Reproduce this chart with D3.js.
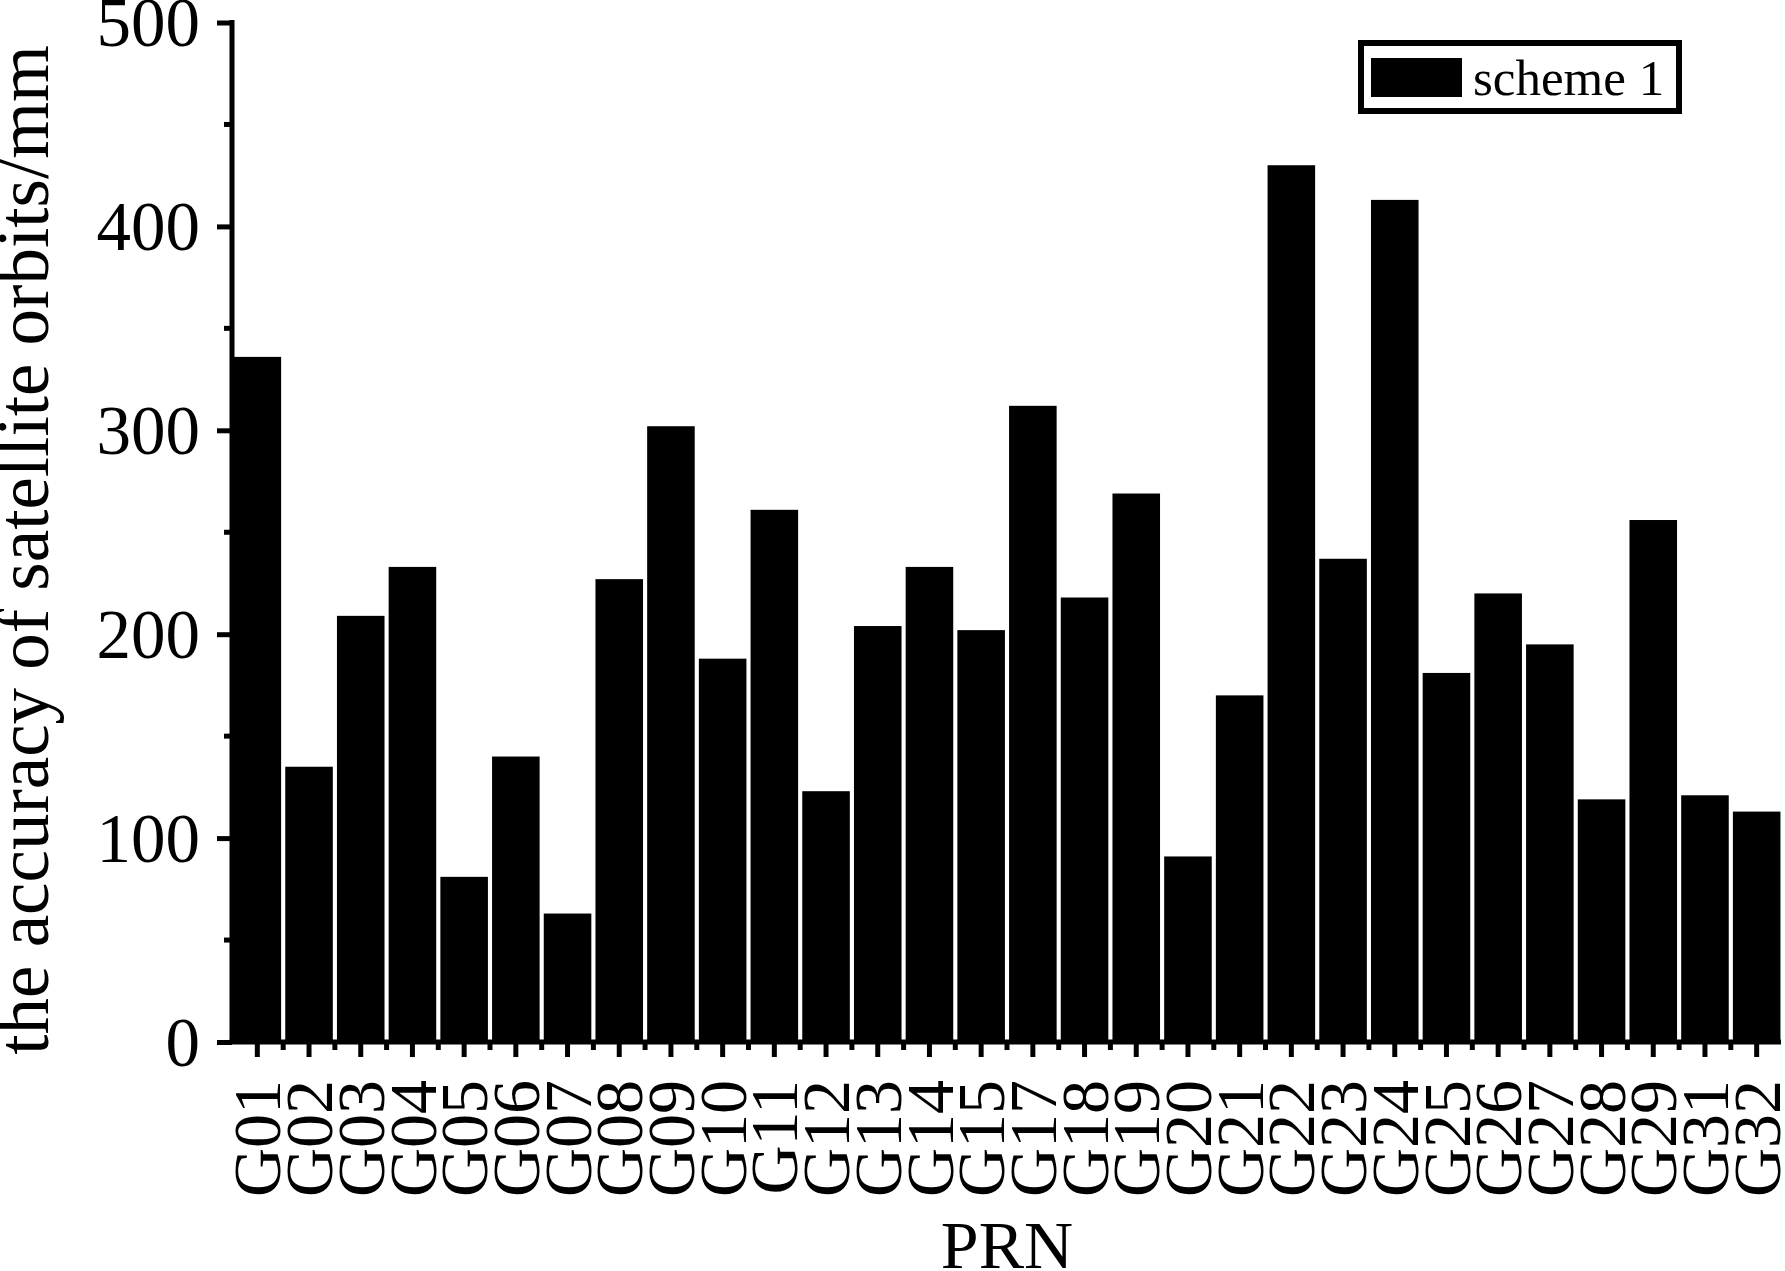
<!DOCTYPE html>
<html lang="en">
<head>
	<meta charset="utf-8">
	<title>Satellite orbit accuracy by PRN</title>
	<script type="text/javascript" src="https://d3js.org/d3.v7.min.js"></script>
	<style type="text/css">
		body { margin: 0; background: #fff; }
		text { font-family: "Liberation Serif", "DejaVu Serif", serif; fill: #000; }
	</style>
</head>
<body>
	<script type="text/javascript">

        var prn = ["G01","G02","G03","G04","G05","G06","G07","G08","G09","G10",
                   "G11","G12","G13","G14","G15","G17","G18","G19","G20","G21",
                   "G22","G23","G24","G25","G26","G27","G28","G29","G31","G32"];
        var scheme1 = [336, 135, 209, 233, 81, 140, 63, 227, 302, 188,
                       261, 123, 204, 233, 202, 312, 218, 269, 91, 170,
                       430, 237, 413, 181, 220, 195, 119, 256, 121, 113];
        var yTicks = [0, 100, 200, 300, 400, 500];
        var yMinor = [50, 150, 250, 350, 450];
        var seriesName = "scheme 1";

        var width = 1785, height = 1271;
        // note: "top" is reserved on window, so plot edges get their own names
        var plotLeft = 232, plotRight = 1782, plotTop = 22.5, plotBottom = 1042;

        var svg = d3.select("body")
            .append("svg")
            .attr("width", width)
            .attr("height", height);

        var x = d3.scaleBand()
            .domain(prn)
            .range([plotLeft, plotRight])
            .paddingInner(0.08)
            .paddingOuter(0.03);

        var y = d3.scaleLinear()
            .domain([0, 500])
            .range([plotBottom, plotTop]);

        // bars
        svg.selectAll(".bar")
            .data(prn)
            .enter()
            .append("rect")
            .attr("class", "bar")
            .attr("x", function(d) { return x(d); })
            .attr("width", x.bandwidth())
            .attr("y", function(d, i) { return y(scheme1[i]); })
            .attr("height", function(d, i) { return plotBottom - y(scheme1[i]); })
            .attr("fill", "#000");

        // y axis
        var yAxis = svg.append("g")
            .attr("transform", "translate(" + plotLeft + ",0)")
            .call(d3.axisLeft(y).tickValues(yTicks).tickSize(15).tickPadding(17).tickFormat(d3.format("d")));
        yAxis.select(".domain").remove();
        yAxis.selectAll(".tick line").attr("stroke", "#000").attr("stroke-width", 5);
        yAxis.selectAll(".tick text")
            .attr("font-size", 69)
            .attr("dy", "0.34em");

        svg.append("g")
            .attr("transform", "translate(" + plotLeft + ",0)")
            .selectAll("line")
            .data(yMinor)
            .enter()
            .append("line")
            .attr("x1", -8).attr("x2", 0)
            .attr("y1", function(d) { return y(d); })
            .attr("y2", function(d) { return y(d); })
            .attr("stroke", "#000")
            .attr("stroke-width", 5);

        svg.append("line")
            .attr("x1", plotLeft).attr("x2", plotLeft)
            .attr("y1", plotTop - 2.5).attr("y2", plotBottom + 2)
            .attr("stroke", "#000")
            .attr("stroke-width", 5);

        // x axis
        var xAxis = svg.append("g")
            .attr("transform", "translate(0," + plotBottom + ")")
            .call(d3.axisBottom(x).tickSize(15).tickSizeOuter(0));
        xAxis.select(".domain").remove();
        xAxis.selectAll(".tick line").attr("stroke", "#000").attr("stroke-width", 5);
        xAxis.selectAll(".tick text")
            .attr("font-size", 68)
            .attr("text-anchor", "end")
            .attr("y", 0)
            .attr("dy", "0.34em")
            .attr("transform", "translate(0,38) rotate(-90)");

        // minor ticks between bars
        var step = x.step();
        svg.append("g")
            .selectAll("line")
            .data(prn.slice(1))
            .enter()
            .append("line")
            .attr("x1", function(d) { return x(d) - (step - x.bandwidth()) / 2; })
            .attr("x2", function(d) { return x(d) - (step - x.bandwidth()) / 2; })
            .attr("y1", plotBottom)
            .attr("y2", plotBottom + 8)
            .attr("stroke", "#000")
            .attr("stroke-width", 5);

        svg.append("line")
            .attr("x1", plotLeft - 2.5).attr("x2", plotRight - 1)
            .attr("y1", plotBottom).attr("y2", plotBottom)
            .attr("stroke", "#000")
            .attr("stroke-width", 5);

        // axis titles
        svg.append("text")
            .attr("transform", "translate(48,550) rotate(-90)")
            .attr("text-anchor", "middle")
            .attr("font-size", 73)
            .text("the accuracy of satellite orbits/mm");

        svg.append("text")
            .attr("x", (plotLeft + plotRight) / 2)
            .attr("y", 1268)
            .attr("text-anchor", "middle")
            .attr("font-size", 68)
            .text("PRN");

        // legend
        var legend = svg.append("g");
        legend.append("rect")
            .attr("x", 1361).attr("y", 43)
            .attr("width", 318).attr("height", 68)
            .attr("fill", "#fff")
            .attr("stroke", "#000")
            .attr("stroke-width", 6);
        legend.append("rect")
            .attr("x", 1371).attr("y", 58)
            .attr("width", 91).attr("height", 39)
            .attr("fill", "#000");
        legend.append("text")
            .attr("x", 1473).attr("y", 95)
            .attr("font-size", 51)
            .text(seriesName);

	</script>
</body>
</html>
